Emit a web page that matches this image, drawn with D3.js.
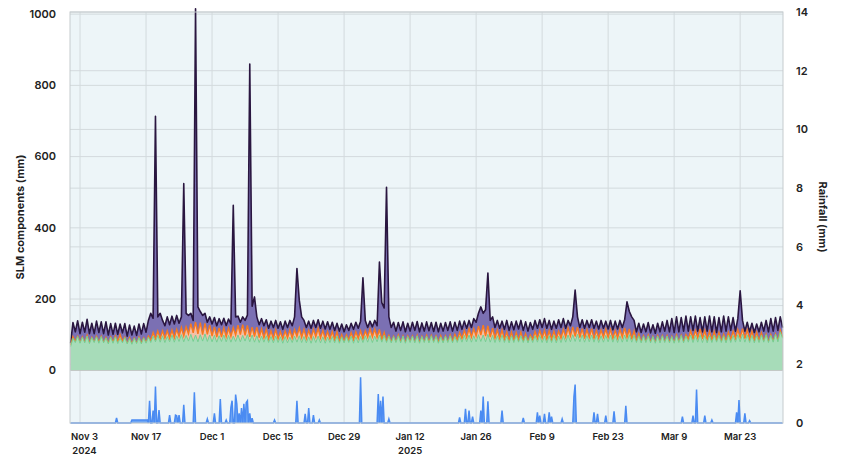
<!DOCTYPE html>
<html><head><meta charset="utf-8">
<script src="https://cdn.jsdelivr.net/npm/d3@7"></script>
<style>
body{margin:0;background:#fff;}
svg text{font-family:Inter,"Open Sans",sans-serif;fill:#222;}
</style></head><body>
<svg id="chart" width="850" height="465"></svg>
<script>
// ---- data ----
const seriesStart = "2024-11-01T00";   // first sample, then every 12 hours
const stepHours = 12;
// SLM components (mm), two samples per day (00h, 12h), Nov 1 2024 -> Apr 1 2025
const greenMm = [
66,90, 78,95, 76,93, 77,96, 75,92, 78,94, 76,95, 77,91, 74,93, 76,94,
75,90, 77,92, 74,89, 73,90, 75,92, 74,91, 76,93, 78,96, 80,98, 79,97,
78,95, 80,99, 79,97, 81,100, 80,98, 82,101, 81,99, 80,100, 82,102, 81,99,
80,98, 79,97, 81,99, 80,98, 79,96, 81,99, 80,98, 82,100, 80,99, 79,97,
78,96, 79,97, 78,95, 77,96, 78,94, 76,95, 77,93, 78,96, 79,97, 78,95,
77,94, 76,95, 78,96, 77,94, 76,93, 78,95, 77,96, 76,94, 77,95, 78,96,
76,94, 77,95, 78,97, 79,98, 78,96, 80,99, 79,98, 78,96, 77,95, 78,97,
77,96, 76,95, 78,96, 77,97, 76,95, 78,96, 77,97, 78,95, 76,94, 77,96,
78,97, 77,95, 78,96, 79,98, 80,99, 79,97, 80,100, 81,99, 80,101, 79,98,
78,97, 79,99, 78,96, 77,97, 78,98, 79,97, 78,96, 77,95, 78,97, 79,98,
78,96, 77,97, 78,98, 77,96, 78,97, 79,99, 80,100, 81,101, 80,99, 79,98,
80,99, 79,98, 78,97, 79,98, 80,99, 79,98, 78,97, 79,99, 80,100, 79,98,
78,97, 77,96, 78,97, 77,95, 76,96, 77,97, 78,96, 77,95, 76,97, 78,98,
77,96, 79,99, 78,98, 79,100, 78,98, 77,97, 78,99, 79,98, 78,97, 77,99,
78,98, 79,100, 80,101, 79,99, 78,98, 77,97, 78,99, 79,100, 78,98, 79,101,
80,108, 90
];
const orangeMm = [
4,4, 2,0, 1,0, 0,2, 1,0, 0,1, 2,0, 0,1, 1,0, 3,2,
6,10, 4,1, 0,2, 1,0, 0,1, 2,0, 1,3, 6,10, 8,12, 10,14,
12,16, 10,14, 12,18, 14,20, 16,24, 20,30, 24,36, 22,34, 18,30, 20,28,
16,24, 14,22, 12,20, 14,20, 16,24, 18,28, 20,30, 16,26, 14,22, 16,24,
14,20, 12,18, 10,16, 12,18, 10,14, 12,16, 14,20, 12,18, 16,22, 14,20,
12,18, 14,20, 16,22, 14,18, 12,16, 10,14, 8,12, 4,6, 2,4, 6,10,
10,14, 12,16, 10,14, 14,18, 16,20, 12,16, 6,8, 4,2, 2,0, 0,2,
1,0, 0,1, 2,0, 0,1, 1,0, 0,2, 1,0, 0,1, 2,3, 1,0,
0,2, 4,6, 6,10, 10,14, 12,18, 14,20, 16,24, 18,28, 16,24, 14,20,
12,16, 10,14, 8,12, 6,10, 4,8, 6,10, 4,6, 2,4, 8,12, 10,14,
12,16, 10,14, 8,12, 10,14, 12,18, 14,20, 16,22, 14,20, 12,18, 10,16,
12,18, 10,14, 12,16, 14,18, 12,16, 10,14, 12,18, 14,20, 12,16, 8,12,
4,6, 2,1, 0,2, 1,0, 0,1, 2,0, 0,1, 1,0, 0,2, 1,0,
2,4, 8,12, 10,14, 12,16, 10,14, 8,12, 6,10, 4,8, 2,4, 4,8,
8,12, 10,14, 12,16, 10,14, 8,12, 6,10, 4,6, 2,1, 0,2, 1,0,
2,4, 2
];
const purpleMm = [
6,40, 28,44, 26,42, 30,45, 27,40, 25,43, 28,41, 26,44, 24,38, 22,36,
20,30, 24,38, 22,36, 25,34, 23,37, 26,40, 30,44, 76,40, 625,40, 71,29,
35,39, 38,39, 39,39, 37,30, 428,38, 52,29, 35,880, 76,31, 54,28, 34,23,
34,26, 32,26, 35,27, 32,26, 35,343, 51,25, 35,22, 42,29, 766,59, 111,29,
36,29, 34,27, 30,27, 31,26, 30,28, 27,27, 29,27, 35,36, 191,78, 58,25,
31,26, 28,25, 26,24, 27,26, 28,27, 27,26, 27,24, 30,30, 29,29, 28,26,
29,27, 29,27, 172,29, 27,22, 28,24, 33,189, 105,69, 432,52, 41,40, 32,35,
34,40, 32,36, 30,39, 35,39, 31,38, 32,38, 33,37, 31,39, 30,35, 32,38,
34,37, 29,34, 28,32, 26,26, 26,23, 27,28, 39,36, 79,33, 74,148, 47,32,
30,27, 29,25, 29,32, 29,29, 32,32, 31,33, 30,34, 31,35, 29,31, 29,30,
30,33, 31,29, 29,28, 31,32, 30,30, 25,21, 29,28, 130,29, 28,25, 29,26,
28,25, 29,26, 26,27, 25,22, 24,25, 25,26, 26,25, 27,23, 100,49, 63,30,
26,29, 27,33, 30,35, 27,33, 28,35, 29,39, 32,43, 30,50, 30,51, 29,50,
31,52, 23,39, 24,40, 19,32, 20,38, 25,43, 24,41, 23,42, 28,51, 29,43,
26,38, 21,31, 131,23, 21,22, 22,22, 23,23, 26,30, 29,39, 30,45, 30,47,
30,38, 28
];
// Rainfall (mm): recorded 6-hourly amounts; every other 6-hour slot is 0
const rainStart = "2024-11-01T00", rainEnd = "2025-04-01T00";
const rainEvents = [
["2024-11-10T18",0.17],
["2024-11-14T00",0.1],["2024-11-14T06",0.1],["2024-11-14T12",0.1],["2024-11-14T18",0.1],
["2024-11-15T00",0.1],["2024-11-15T06",0.1],["2024-11-15T12",0.1],["2024-11-15T18",0.1],
["2024-11-16T00",0.1],["2024-11-16T06",0.1],["2024-11-16T12",0.1],["2024-11-16T18",0.1],
["2024-11-17T00",0.1],["2024-11-17T06",0.1],
["2024-11-17T18",0.76],["2024-11-18T12",0.42],["2024-11-19T00",1.24],["2024-11-19T18",0.44],
["2024-11-22T00",0.27],["2024-11-23T06",0.27],["2024-11-23T12",0.25],["2024-11-24T00",0.27],
["2024-11-25T00",0.62],["2024-11-27T06",1.05],["2024-11-30T00",0.14],
["2024-12-01T12",0.33],["2024-12-02T18",0.82],["2024-12-04T00",0.1],
["2024-12-05T00",0.53],["2024-12-05T06",0.76],["2024-12-06T00",0.97],["2024-12-06T06",0.65],
["2024-12-06T18",0.33],["2024-12-07T06",0.51],["2024-12-07T18",0.65],["2024-12-08T06",0.7],
["2024-12-08T12",0.76],["2024-12-09T00",0.33],["2024-12-09T12",0.16],
["2024-12-14T06",0.1],["2024-12-19T00",0.76],["2024-12-20T18",0.31],["2024-12-21T12",0.51],
["2024-12-22T12",0.27],["2024-12-23T18",0.1],
["2025-01-01T12",1.56],["2025-01-05T06",0.99],["2025-01-05T18",0.76],["2025-01-06T06",0.9],
["2025-01-07T12",0.14],
["2025-01-22T12",0.19],["2025-01-23T18",0.48],["2025-01-24T12",0.42],["2025-01-25T06",0.22],
["2025-01-27T00",0.42],["2025-01-27T12",0.9],["2025-01-28T12",0.74],["2025-01-31T12",0.42],
["2025-02-05T00",0.17],["2025-02-08T00",0.36],["2025-02-08T12",0.25],["2025-02-09T12",0.31],
["2025-02-10T12",0.36],["2025-02-11T00",0.22],["2025-02-13T06",0.14],
["2025-02-15T18",0.9],["2025-02-16T00",1.31],
["2025-02-20T00",0.36],["2025-02-20T18",0.31],["2025-02-22T12",0.25],["2025-02-24T06",0.4],
["2025-02-26T18",0.59],
["2025-03-10T18",0.22],["2025-03-13T00",0.25],["2025-03-13T18",1.14],["2025-03-15T12",0.25],
["2025-03-17T00",0.1],
["2025-03-22T06",0.36],["2025-03-22T18",0.78],["2025-03-24T00",0.33],["2025-03-25T00",0.08]
];
const xTickDates = ["2024-11-03","2024-11-17","2024-12-01","2024-12-15","2024-12-29","2025-01-12",
                    "2025-01-26","2025-02-09","2025-02-23","2025-03-09","2025-03-23"];
const xTickLabels = ["Nov 3","Nov 17","Dec 1","Dec 15","Dec 29","Jan 12","Jan 26","Feb 9","Feb 23","Mar 9","Mar 23"];
const xTickYears = ["2024","","","","","2025","","","","",""];
const slmTicks = [0,200,400,600,800,1000];
const rainTicks = [0,2,4,6,8,10,12,14];
const slmAxisTitle = "SLM components (mm)";
const rainAxisTitle = "Rainfall (mm)";

// ---- build ----
const parseH = d3.utcParse("%Y-%m-%dT%H");
const parseD = d3.utcParse("%Y-%m-%d");
const t0 = parseH(seriesStart);
const n = Math.min(greenMm.length, orangeMm.length, purpleMm.length);
const slm = d3.range(n).map(i => {
  const g = greenMm[i], o = orangeMm[i], p = purpleMm[i];
  return {t: d3.utcHour.offset(t0, i*stepHours), g, go: g+o, gop: g+o+p};
});
const rainMap = new Map(rainEvents.map(([s,v]) => [parseH(s).getTime(), v]));
const rain = d3.utcHour.every(6).range(parseH(rainStart), d3.utcHour.offset(parseH(rainEnd),1))
  .map(t => ({t, v: rainMap.get(t.getTime()) || 0}));

const L = 70, R = 783, T = 12, B = 423;
const x = d3.scaleUtc()
  .domain([d3.utcHour.offset(t0,-3), d3.utcHour.offset(parseH(rainEnd),2)])
  .range([L, R]);
const yL = d3.scaleLinear().domain([-148, 1006]).range([B, T]);
const yR = d3.scaleLinear().domain([0, 14]).range([B, T]);

const svg = d3.select("#chart");
svg.append("rect").attr("x",L).attr("y",T).attr("width",R-L).attr("height",B-T).attr("fill","#edf5f8");

const grid = svg.append("g").attr("stroke","#d3dadd").attr("stroke-width",1);
slmTicks.forEach(v => grid.append("line").attr("x1",L).attr("x2",R).attr("y1",yL(v)).attr("y2",yL(v)));
rainTicks.forEach(v => grid.append("line").attr("x1",L).attr("x2",R).attr("y1",yR(v)).attr("y2",yR(v)));
xTickDates.forEach(s => { const xx = x(parseD(s)); grid.append("line").attr("x1",xx).attr("x2",xx).attr("y1",T).attr("y2",B); });

const areaOf = key => d3.area().x(d => x(d.t)).y0(yL(0)).y1(d => yL(d[key]));
const lineOf = key => d3.line().x(d => x(d.t)).y(d => yL(d[key]));

svg.append("path").datum(slm).attr("d", areaOf("gop")).attr("fill","#7b70b3");
svg.append("path").datum(slm).attr("d", lineOf("gop")).attr("fill","none").attr("stroke","#2a1640").attr("stroke-width",1.6).attr("stroke-linejoin","round");
svg.append("path").datum(slm).attr("d", areaOf("go")).attr("fill","#f4bfa6");
svg.append("path").datum(slm).attr("d", lineOf("go")).attr("fill","none").attr("stroke","#f7791f").attr("stroke-width",1.4);
svg.append("path").datum(slm).attr("d", areaOf("g")).attr("fill","#a7dcb9");
svg.append("path").datum(slm).attr("d", lineOf("g")).attr("fill","none").attr("stroke","#74d093").attr("stroke-width",1);

svg.append("path").datum(rain)
  .attr("d", d3.area().x(d => x(d.t)).y0(yR(0)).y1(d => yR(d.v)))
  .attr("fill","#6ea6f4");
svg.append("path").datum(rain)
  .attr("d", d3.line().x(d => x(d.t)).y(d => yR(d.v)))
  .attr("fill","none").attr("stroke","#4a8bf2").attr("stroke-width",1.5);

svg.append("rect").attr("x",L).attr("y",T).attr("width",R-L).attr("height",B-T)
  .attr("fill","none").attr("stroke","#c5cbce").attr("stroke-width",1);

// axes text
const tf = "600";
slmTicks.forEach(v => svg.append("text").attr("x",56).attr("y",yL(v)).attr("dy","0.35em")
  .attr("text-anchor","end").attr("font-size",11).attr("font-weight",tf).text(v));
rainTicks.forEach(v => svg.append("text").attr("x",796).attr("y",yR(v)).attr("dy","0.35em")
  .attr("text-anchor","start").attr("font-size",11).attr("font-weight",tf).text(v));
xTickDates.forEach((s,i) => {
  const xx = x(parseD(s)) + (i === 0 ? 4.5 : 0);
  svg.append("text").attr("x",xx).attr("y",437).attr("dy","0.35em").attr("text-anchor","middle")
    .attr("font-size",9.5).attr("font-weight",tf).attr("fill","#333").text(xTickLabels[i]);
  if (xTickYears[i]) svg.append("text").attr("x",xx).attr("y",451).attr("dy","0.35em").attr("text-anchor","middle")
    .attr("font-size",9.5).attr("font-weight",tf).attr("fill","#333").text(xTickYears[i]);
});
svg.append("text").attr("transform","translate(20,217) rotate(-90)").attr("text-anchor","middle")
  .attr("dy","0.35em").attr("font-size",11).attr("font-weight","700").text(slmAxisTitle);
svg.append("text").attr("transform","translate(823,217) rotate(90)").attr("text-anchor","middle")
  .attr("dy","0.35em").attr("font-size",11).attr("font-weight","700").text(rainAxisTitle);
</script>
</body></html>
